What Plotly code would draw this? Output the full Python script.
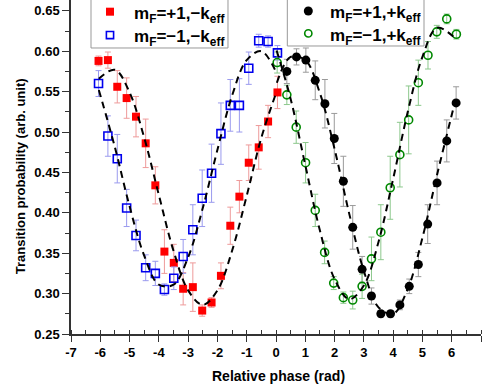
import plotly.graph_objects as go

# ---- data ----
x_minus = [-6.06, -5.74, -5.42, -5.10, -4.78, -4.45, -4.12, -3.81, -3.49, -3.17,
           -2.84, -2.52, -2.20, -1.88, -1.56, -1.25, -0.93, -0.59, -0.27, 0.05]
red_y = [0.588, 0.589, 0.556, 0.542, 0.519, 0.486, 0.434, 0.352, 0.338, 0.306,
         0.308, 0.279, 0.289, 0.322, 0.384, 0.420, 0.462, 0.481, 0.513, 0.549]
red_err = [0.006, 0.010, 0.020, 0.025, 0.025, 0.030, 0.023, 0.027, 0.023, 0.020,
           0.030, 0.007, 0.006, 0.016, 0.023, 0.020, 0.022, 0.027, 0.020, 0.020]
blue_y = [0.560, 0.495, 0.467, 0.406, 0.372, 0.332, 0.325, 0.305, 0.319, 0.346,
          0.379, 0.418, 0.449, 0.498, 0.533, 0.533, 0.579, 0.613, 0.612, 0.598]
blue_err = [0.016, 0.025, 0.030, 0.023, 0.019, 0.016, 0.015, 0.007, 0.014, 0.021,
            0.031, 0.035, 0.036, 0.038, 0.032, 0.033, 0.020, 0.008, 0.007, 0.009]

x_black = [0.37, 0.70, 1.02, 1.34, 1.67, 1.99, 2.30, 2.62, 2.94, 3.26,
           3.58, 3.91, 4.23, 4.55, 4.86, 5.18, 5.50, 5.83, 6.15]
black_y = [0.575, 0.593, 0.589, 0.564, 0.535, 0.492, 0.439, 0.382, 0.330, 0.297,
           0.275, 0.275, 0.286, 0.309, 0.336, 0.386, 0.437, 0.489, 0.536]
black_err = [0.015, 0.010, 0.015, 0.024, 0.030, 0.031, 0.031, 0.027, 0.016, 0.010,
             0.004, 0.004, 0.006, 0.009, 0.015, 0.024, 0.027, 0.026, 0.020]

x_green = [0.04, 0.37, 0.69, 1.01, 1.34, 1.66, 1.97, 2.30, 2.62, 2.94,
           3.26, 3.58, 3.90, 4.23, 4.53, 4.86, 5.19, 5.49, 5.83, 6.16]
green_y = [0.586, 0.546, 0.506, 0.462, 0.403, 0.351, 0.313, 0.295, 0.292, 0.309,
           0.343, 0.376, 0.431, 0.472, 0.515, 0.561, 0.595, 0.624, 0.640, 0.621]
green_err = [0.013, 0.012, 0.020, 0.025, 0.020, 0.014, 0.008, 0.007, 0.011, 0.015,
             0.027, 0.034, 0.039, 0.040, 0.042, 0.028, 0.017, 0.008, 0.006, 0.006]

# dashed fit curves
fit_red_x = [-6.05, -5.5, -5.0, -4.5, -4.0, -3.5, -3.0, -2.5, -2.0, -1.5, -1.0, -0.5, 0.03]
fit_red_y = [0.566, 0.577, 0.549, 0.493, 0.422, 0.353, 0.304, 0.286, 0.304, 0.353, 0.421, 0.493, 0.551]
fit_blue_x = [-6.05, -5.5, -5.0, -4.5, -4.0, -3.5, -3.0, -2.5, -2.0, -1.5, -1.0, -0.5, 0.03]
fit_blue_y = [0.552, 0.481, 0.408, 0.347, 0.311, 0.311, 0.345, 0.406, 0.478, 0.545, 0.589, 0.600, 0.572]
fit_black_x = [0.03, 0.5, 1.0, 1.5, 2.0, 2.5, 3.0, 3.5, 4.0, 4.5, 5.0, 5.5, 6.11]
fit_black_y = [0.561, 0.593, 0.589, 0.548, 0.479, 0.399, 0.328, 0.283, 0.275, 0.306, 0.369, 0.447, 0.537]
fit_green_x = [0.02, 0.5, 1.0, 1.5, 2.0, 2.5, 3.0, 3.5, 4.0, 4.5, 5.0, 5.5, 6.12]
fit_green_y = [0.601, 0.541, 0.459, 0.378, 0.318, 0.293, 0.310, 0.364, 0.442, 0.525, 0.593, 0.629, 0.616]

x_ticks = list(range(-7, 8))
x_ticktext = [str(v) for v in x_ticks]          # plain hyphen minus as in the reference
y_ticks = [0.25, 0.30, 0.35, 0.40, 0.45, 0.50, 0.55, 0.60, 0.65]

x_title = "Relative phase (rad)"
y_title = "Transition probability (arb. unit)"
label_red = "m<sub>F</sub>=+1,−k<sub>eff</sub>"
label_blue = "m<sub>F</sub>=−1,−k<sub>eff</sub>"
label_black = "m<sub>F</sub>=+1,+k<sub>eff</sub>"
label_green = "m<sub>F</sub>=−1,+k<sub>eff</sub>"

FONT = "Liberation Sans, Arial, sans-serif"
RED, BLUE, BLACK, GREEN = "#ff0000", "#0000ee", "#000000", "#008800"

fig = go.Figure()

fig.add_trace(go.Scatter(
    x=x_minus, y=red_y, mode="markers", name=label_red,
    marker=dict(symbol="square", size=8, color=RED, line=dict(width=0)),
    error_y=dict(type="data", array=red_err, color="#ee9a9a", thickness=1, width=3)))
fig.add_trace(go.Scatter(
    x=x_minus, y=blue_y, mode="markers", name=label_blue,
    marker=dict(symbol="square-open", size=8, color=BLUE, line=dict(width=1.6)),
    error_y=dict(type="data", array=blue_err, color="#9a9aee", thickness=1, width=3)))
fig.add_trace(go.Scatter(
    x=x_black, y=black_y, mode="markers", name=label_black,
    marker=dict(symbol="circle", size=9, color=BLACK, line=dict(width=0)),
    error_y=dict(type="data", array=black_err, color="#9a9a9a", thickness=1, width=3)))
fig.add_trace(go.Scatter(
    x=x_green, y=green_y, mode="markers", name=label_green,
    marker=dict(symbol="circle-open", size=8, color=GREEN, line=dict(width=1.6)),
    error_y=dict(type="data", array=green_err, color="#8cc88c", thickness=1, width=3)))

for fx, fy in [(fit_red_x, fit_red_y), (fit_blue_x, fit_blue_y),
               (fit_black_x, fit_black_y), (fit_green_x, fit_green_y)]:
    fig.add_trace(go.Scatter(
        x=fx, y=fy, mode="lines", hoverinfo="skip",
        line=dict(color="black", width=2, dash="7px,5px", shape="spline", smoothing=1.0)))

axis_common = dict(
    showline=True, linecolor="#333333", linewidth=1.5, showgrid=False, zeroline=False,
    ticks="outside", tickcolor="#333333", tickwidth=1.2,
    tickfont=dict(family=FONT, size=13, color="black", weight="bold"),
)

# ---- hand-drawn legend boxes (top edge runs off the page, as in the reference) ----
def legend_box(x0, x1, y0):
    return dict(type="rect", xref="paper", yref="paper", x0=x0, x1=x1, y0=y0, y1=1.2,
                line=dict(color="#999999", width=1), fillcolor="white", layer="above")

def legend_marker(kind, xc, yc, color, filled, half):
    return dict(type=kind, xref="paper", yref="paper", xsizemode="pixel", ysizemode="pixel",
                xanchor=xc, yanchor=yc, x0=-half, x1=half, y0=-half, y1=half,
                fillcolor=color if filled else "rgba(0,0,0,0)",
                line=dict(color=color, width=0 if filled else 1.6), layer="above")

legend_font = dict(family=FONT, size=17, color="black", weight="bold")

def legend_text(text, xl, yc):
    return dict(text=text, xref="paper", yref="paper", x=xl, y=yc, xanchor="left",
                yanchor="middle", showarrow=False, font=legend_font)

shapes = [
    legend_box(0.0488, 0.3829, 0.8563),
    legend_marker("rect", 0.0951, 0.965, RED, True, 4),
    legend_marker("rect", 0.0951, 0.895, BLUE, False, 3.6),
    legend_box(0.5276, 0.8610, 0.8623),
    legend_marker("circle", 0.5788, 0.967, BLACK, True, 4.5),
    legend_marker("circle", 0.5788, 0.900, GREEN, False, 3.6),
]

annotations = [
    legend_text(label_red, 0.1480, 0.955),
    legend_text(label_blue, 0.1480, 0.885),
    legend_text(label_black, 0.6280, 0.957),
    legend_text(label_green, 0.6280, 0.890),
    dict(text=x_title, xref="paper", yref="paper", x=0.507, y=-0.126,
         xanchor="center", yanchor="middle", showarrow=False,
         font=dict(family=FONT, size=14, color="black", weight="bold")),
    dict(text=y_title, xref="paper", yref="paper", x=-0.124, y=0.473,
         xanchor="center", yanchor="middle", showarrow=False, textangle=-90,
         font=dict(family=FONT, size=13, color="black", weight="bold")),
]

fig.update_layout(
    width=483, height=392,
    margin=dict(l=71, r=2, t=0, b=58, autoexpand=False),
    paper_bgcolor="white", plot_bgcolor="white",
    font=dict(family=FONT, color="black"),
    showlegend=False,
    xaxis=dict(
        **axis_common, range=[-7, 7], tickvals=x_ticks, ticktext=x_ticktext, ticklen=6,
        minor=dict(dtick=0.5, ticks="inside", ticklen=4, tickcolor="#333333", tickwidth=1),
    ),
    yaxis=dict(
        **axis_common, range=[0.25, 0.6634], tickvals=y_ticks, tickformat=".2f", ticklen=7,
        minor=dict(dtick=0.025, ticks="outside", ticklen=4, tickcolor="#333333", tickwidth=1),
    ),
    shapes=shapes,
    annotations=annotations,
)

# remove the browser's default 8px page margin so the figure sits at the window corner
fig.write_html("out.html", config={"displayModeBar": False},
               post_script="document.body.style.margin='0';")
